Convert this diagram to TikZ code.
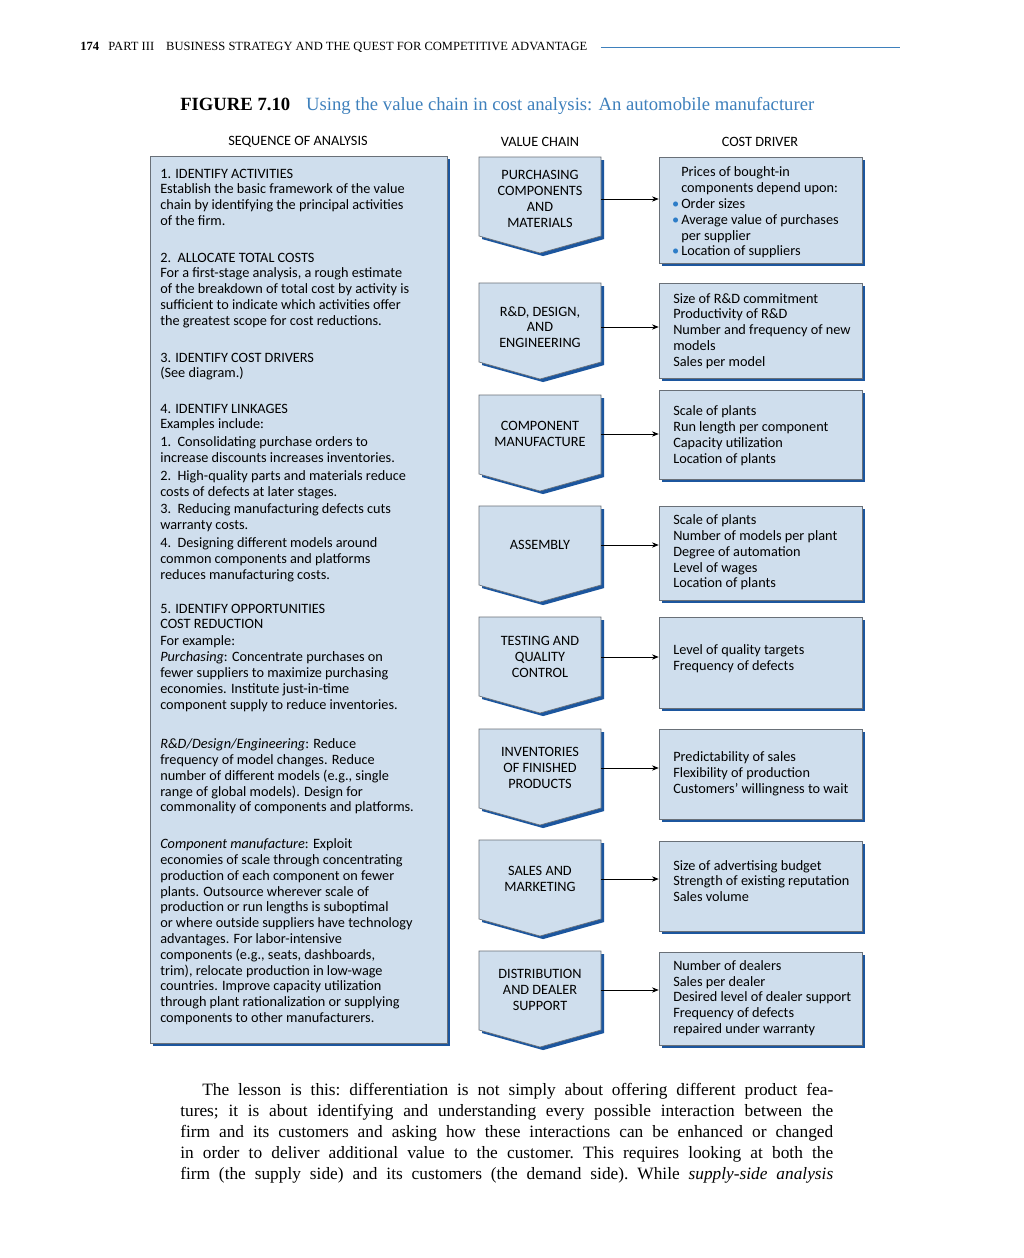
\documentclass[tikz,border=0pt]{standalone}
\usepackage{fontspec}
\setmainfont{Liberation Serif}
\newfontfamily\figfont{Carlito}
\usetikzlibrary{shadows,fit,arrows.meta}
\definecolor{panelblue}{RGB}{207,222,237}
\definecolor{shadeblue}{RGB}{28,86,158}
\definecolor{edgegray}{RGB}{105,112,120}
\definecolor{titleblue}{RGB}{62,128,188}
\definecolor{bulletblue}{RGB}{45,125,200}
\newcommand{\cdbullet}{\llap{\textcolor{bulletblue}{\textbullet}\hspace{1.5pt}}}
\tikzset{
  panel/.style   = {draw=edgegray, line width=0.5pt, fill=panelblue,
                    drop shadow={shadow xshift=2.3pt, shadow yshift=-2.3pt, fill=shadeblue, opacity=1}},
  seqbox/.style  = {panel, inner sep=0pt},
  cdbox/.style   = {panel, inner sep=0pt},
  chev/.style    = {panel},
  figtext/.style = {font=\figfont\fontsize{10.7}{11.85}\selectfont, inner sep=0pt},
  seqtext/.style = {figtext, anchor=north west, align=left},
  cdtext/.style  = {figtext, anchor=west, align=left},
  vclab/.style   = {figtext, align=center, minimum width=91.5pt},
  arr/.style     = {-{Stealth[length=5pt,width=4pt]}, line width=0.5pt},
}
\begin{document}
\begin{tikzpicture}[x=0.75pt, y=-0.75pt]
            \fill[white] (0,0) rectangle (1024,1258);
            \useasboundingbox (0,0) rectangle (1024,1258);

            \node[anchor=base west, inner sep=0pt, font=\fontsize{9.4}{10}\selectfont] (hdr) at (80,50)
                 {\textbf{174}\hspace{7pt}PART III\hspace{9pt}BUSINESS STRATEGY AND THE QUEST FOR COMPETITIVE ADVANTAGE};
            \coordinate (rulend) at (900,47);
            \draw[titleblue, line width=0.4pt] ([xshift=10pt]hdr.east) -- (hdr.east -| rulend);

            \node[anchor=base west, inner sep=0pt, font=\fontsize{14}{16}\selectfont] (fig) at (180,110)
                 {\textbf{FIGURE 7.10}\hspace{12pt}\textcolor{titleblue}{Using the value chain in cost analysis: An automobile manufacturer}};

            \node[figtext] (hseq)  at (298,142) {SEQUENCE OF ANALYSIS};
            \node[figtext] (hvc)   at (540,142) {VALUE CHAIN};
            \node[figtext] (hcost) at (760,142) {COST DRIVER};

            \node[seqbox, fit={(150,156) (447,1043)}] (seq) {};
            \node[seqtext] (seq1) at (160,168.5) {1. IDENTIFY ACTIVITIES\\Establish the basic framework of the value\\chain by identifying the principal activities\\of the firm.};
            \node[seqtext] (seq2) at (160,252.5) {2.\ \ ALLOCATE TOTAL COSTS\\For a first-stage analysis, a rough estimate\\of the breakdown of total cost by activity is\\sufficient to indicate which activities offer\\the greatest scope for cost reductions.};
            \node[seqtext] (seq3) at (160,352.5) {3. IDENTIFY COST DRIVERS\\(See diagram.)};
            \node[seqtext] (seq4) at (160,403.5) {4. IDENTIFY LINKAGES\\Examples include:\\[1.5pt]1.\ \ Consolidating purchase orders to\\increase discounts increases inventories.\\[1.5pt]2.\ \ High-quality parts and materials reduce\\costs of defects at later stages.\\[1.5pt]3.\ \ Reducing manufacturing defects cuts\\warranty costs.\\[1.5pt]4.\ \ Designing different models around\\common components and platforms\\reduces manufacturing costs.};
            \node[seqtext] (seq5) at (160,603.5) {5. IDENTIFY OPPORTUNITIES\\COST REDUCTION\\[1pt]For example:\\\textit{Purchasing}: Concentrate purchases on\\fewer suppliers to maximize purchasing\\economies. Institute just-in-time\\component supply to reduce inventories.};
            \node[seqtext] (seq6) at (160,738.5) {\textit{R\&D/Design/Engineering}: Reduce\\frequency of model changes. Reduce\\number of different models (e.g., single\\range of global models). Design for\\commonality of components and platforms.};
            \node[seqtext] (seq7) at (160,838.5) {\textit{Component manufacture}: Exploit\\economies of scale through concentrating\\production of each component on fewer\\plants. Outsource wherever scale of\\production or run lengths is suboptimal\\or where outside suppliers have technology\\advantages. For labor-intensive\\components (e.g., seats, dashboards,\\trim), relocate production in low-wage\\countries. Improve capacity utilization\\through plant rationalization or supplying\\components to other manufacturers.};

            \filldraw[chev] (479,157) -- (601,157) -- (601,236)  -- (540,253)  -- (479,236)  -- cycle;
            \filldraw[chev] (479,283) -- (601,283) -- (601,362)  -- (540,379)  -- (479,362)  -- cycle;
            \filldraw[chev] (479,395) -- (601,395) -- (601,474)  -- (540,491)  -- (479,474)  -- cycle;
            \filldraw[chev] (479,506) -- (601,506) -- (601,585)  -- (540,602)  -- (479,585)  -- cycle;
            \filldraw[chev] (479,617) -- (601,617) -- (601,696)  -- (540,713)  -- (479,696)  -- cycle;
            \filldraw[chev] (479,729) -- (601,729) -- (601,808)  -- (540,825)  -- (479,808)  -- cycle;
            \filldraw[chev] (479,840) -- (601,840) -- (601,919)  -- (540,936)  -- (479,919)  -- cycle;
            \filldraw[chev] (479,951) -- (601,951) -- (601,1030) -- (540,1047) -- (479,1030) -- cycle;

            \node[vclab] (vc1) at (540,199) {PURCHASING\\COMPONENTS\\AND\\MATERIALS};
            \node[vclab] (vc2) at (540,327) {R\&D, DESIGN,\\AND\\ENGINEERING};
            \node[vclab] (vc3) at (540,434) {COMPONENT\\MANUFACTURE};
            \node[vclab] (vc4) at (540,545) {ASSEMBLY};
            \node[vclab] (vc5) at (540,657) {TESTING AND\\QUALITY\\CONTROL};
            \node[vclab] (vc6) at (540,768) {INVENTORIES\\OF FINISHED\\PRODUCTS};
            \node[vclab] (vc7) at (540,879) {SALES AND\\MARKETING};
            \node[vclab] (vc8) at (540,990) {DISTRIBUTION\\AND DEALER\\SUPPORT};

            \node[cdbox, fit={(659,157) (862,263)}]  (cd1) {};
            \node[cdbox, fit={(659,283) (862,378)}]  (cd2) {};
            \node[cdbox, fit={(659,390) (862,479)}]  (cd3) {};
            \node[cdbox, fit={(659,506) (862,600)}]  (cd4) {};
            \node[cdbox, fit={(659,617) (862,708)}]  (cd5) {};
            \node[cdbox, fit={(659,729) (862,819)}]  (cd6) {};
            \node[cdbox, fit={(659,841) (862,931)}]  (cd7) {};
            \node[cdbox, fit={(659,952) (862,1045)}] (cd8) {};

            \node[cdtext] (cd1t) at (681,212.5) {Prices of bought-in\\components depend upon:\\\cdbullet Order sizes\\\cdbullet Average value of purchases\\per supplier\\\cdbullet Location of suppliers};
            \node[cdtext] (cd2t) at (673,331)   {Size of R\&D commitment\\Productivity of R\&D\\Number and frequency of new\\models\\Sales per model};
            \node[cdtext] (cd3t) at (673,435.5) {Scale of plants\\Run length per component\\Capacity utilization\\Location of plants};
            \node[cdtext] (cd4t) at (673,552.5) {Scale of plants\\Number of models per plant\\Degree of automation\\Level of wages\\Location of plants};
            \node[cdtext] (cd5t) at (673,659)   {Level of quality targets\\Frequency of defects};
            \node[cdtext] (cd6t) at (673,774)   {Predictability of sales\\Flexibility of production\\Customers’ willingness to wait};
            \node[cdtext] (cd7t) at (673,881)   {Size of advertising budget\\Strength of existing reputation\\Sales volume};
            \node[cdtext] (cd8t) at (673,998)   {Number of dealers\\Sales per dealer\\Desired level of dealer support\\Frequency of defects\\repaired under warranty};

            \draw[arr] (vc1.east) -- (vc1.east -| cd1.west);
            \draw[arr] (vc2.east) -- (vc2.east -| cd2.west);
            \draw[arr] (vc3.east) -- (vc3.east -| cd3.west);
            \draw[arr] (vc4.east) -- (vc4.east -| cd4.west);
            \draw[arr] (vc5.east) -- (vc5.east -| cd5.west);
            \draw[arr] (vc6.east) -- (vc6.east -| cd6.west);
            \draw[arr] (vc7.east) -- (vc7.east -| cd7.west);
            \draw[arr] (vc8.east) -- (vc8.east -| cd8.west);

            \node[anchor=north west, inner sep=0pt, text width=489.75pt, align=justify,
                  font=\fontsize{13}{15.75}\selectfont] (lesson) at (180,1083)
                 {\frenchspacing\parfillskip=0pt\hspace*{16.5pt}The lesson is this: differentiation is not simply about offering different product fea-\linebreak
                  tures; it is about identifying and understanding every possible interaction between the\linebreak
                  firm and its customers and asking how these interactions can be enhanced or changed\linebreak
                  in order to deliver additional value to the customer. This requires looking at both the\linebreak
                  firm (the supply side) and its customers (the demand side). While \textit{supply-side analysis}\par};
            \end{tikzpicture}
\end{document}
